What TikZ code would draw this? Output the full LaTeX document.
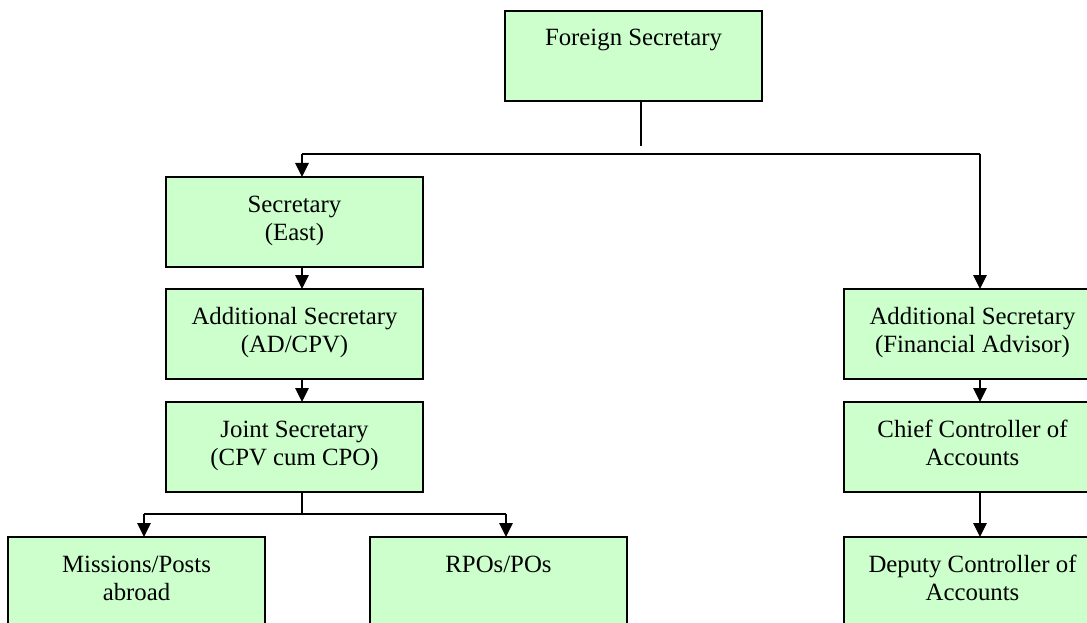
\documentclass[tikz,border=0pt]{standalone}
\usepackage{fontspec}
\setmainfont{Liberation Serif}
\usetikzlibrary{arrows.meta}
\definecolor{boxgreen}{HTML}{CCFFCC}
\newcommand{\bxt}[1]{\parbox[c][90pt][t]{257pt}{\centering\rule{0pt}{35pt}#1\par}}
\tikzset{
  orgbox/.style={draw=black, fill=boxgreen, line width=1.6pt, inner sep=0pt, outer sep=0pt,
    anchor=north west, font=\fontsize{24.8pt}{28.4pt}\selectfont},
  conn/.style={draw=black, line width=1.5pt},
  arr/.style={conn, -{Triangle[width=13.5pt,length=14pt]}}
}
\begin{document}
\begin{tikzpicture}[x=1pt,y=-1pt]
\useasboundingbox (0,0) rectangle (1087,623);
\clip (0,0) rectangle (1087,623);
% boxes
\node[orgbox] (fs) at (505,11) {\bxt{Foreign Secretary}};
\node[orgbox] (sec) at (166,177) {\bxt{Secretary\\(East)}};
\node[orgbox] (asad) at (166,289) {\bxt{Additional Secretary\\(AD/CPV)}};
\node[orgbox] (js) at (166,402) {\bxt{Joint Secretary\\(CPV cum CPO)}};
\node[orgbox] (mis) at (8,537) {\bxt{Missions/Posts\\abroad}};
\node[orgbox] (rpo) at (370,537) {\bxt{RPOs/POs}};
\node[orgbox] (asfa) at (844,289) {\bxt{Additional Secretary\\(Financial Advisor)}};
\node[orgbox] (cca) at (844,402) {\bxt{Chief Controller of\\Accounts}};
\node[orgbox] (dca) at (844,537) {\bxt{Deputy Controller of\\Accounts}};
% junction coordinates
\coordinate (fsx) at (641,0);
\coordinate (fsend) at (641,146);
\coordinate (jl) at (302,154);
\coordinate (jr) at (980,154);
\coordinate (jsbar) at (302,514);
\coordinate (bl) at (144,514);
\coordinate (br) at (506,514);
% connectors
\draw[conn] (fsx |- fs.south) -- (fsend);
\draw[conn] (jl) -- (jr);
\draw[arr] (jl) -- (jl |- sec.north);
\draw[arr] (jr) -- (jr |- asfa.north);
\draw[arr] (jl |- sec.south) -- (jl |- asad.north);
\draw[arr] (jl |- asad.south) -- (jl |- js.north);
\draw[conn] (jl |- js.south) -- (jsbar);
\draw[conn] (bl) -- (br);
\draw[arr] (bl) -- (bl |- mis.north);
\draw[arr] (br) -- (br |- rpo.north);
\draw[arr] (jr |- asfa.south) -- (jr |- cca.north);
\draw[arr] (jr |- cca.south) -- (jr |- dca.north);
\end{tikzpicture}
\end{document}
